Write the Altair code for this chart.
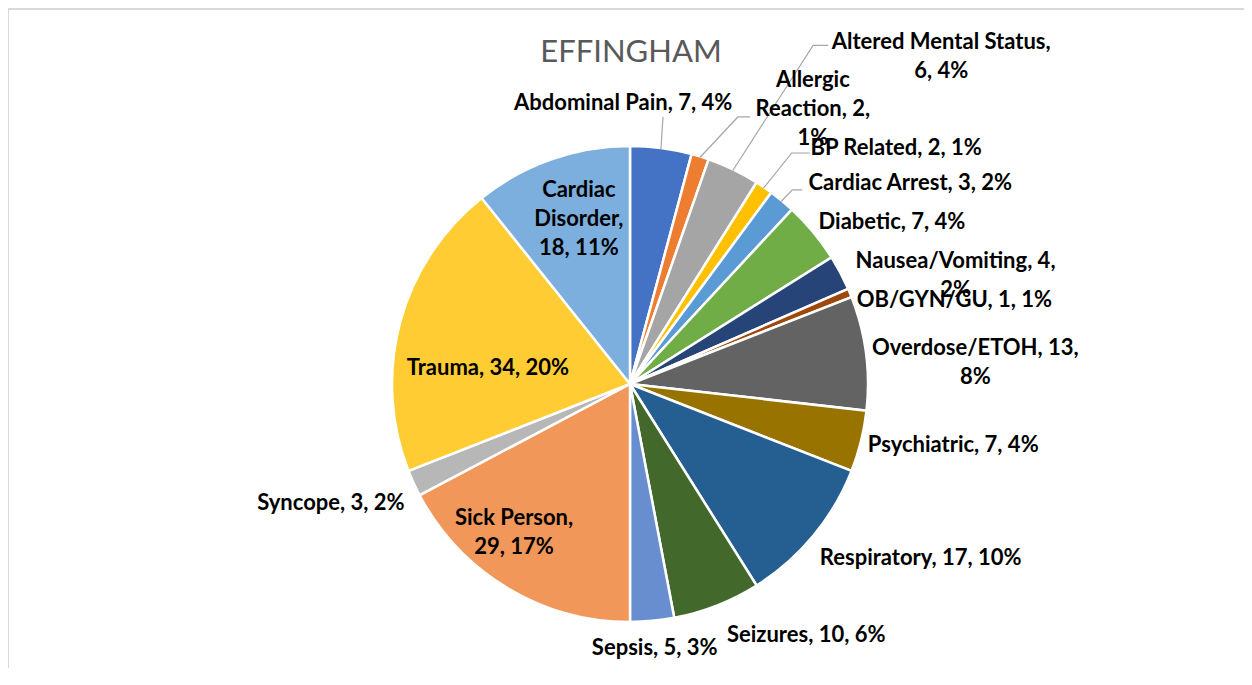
import math
import textwrap
import altair as alt
import pandas as pd

# ---------------- data ----------------
categories = ["Abdominal Pain", "Allergic Reaction", "Altered Mental Status", "BP Related",
              "Cardiac Arrest", "Diabetic", "Nausea/Vomiting", "OB/GYN/GU", "Overdose/ETOH",
              "Psychiatric", "Respiratory", "Seizures", "Sepsis", "Sick Person", "Syncope",
              "Trauma", "Cardiac Disorder"]
counts = [7, 2, 6, 2, 3, 7, 4, 1, 13, 7, 17, 10, 5, 29, 3, 34, 18]
title_text = "EFFINGHAM"

# ---------------- style / layout ----------------
palette = ["#4472C4", "#ED7D31", "#A5A5A5", "#FFC000", "#5B9BD5", "#70AD47", "#264478",
           "#9E480E", "#636363", "#997300", "#255E91", "#43682B", "#698ED0", "#F1975A",
           "#B7B7B7", "#FFCD33", "#7CAFDD"]
W, H = 1236, 660
CX, CY, R = 622, 376, 238
LABEL_FONT = "Lato"
LABEL_SIZE = 22
LINE_H = 29

# label placement: (angle shift from slice middle in degrees, distance from centre px, wrap chars)
label_layout = [(-8.9, 281, 40), (16.5, 330, 12), (17.8, 452, 22), (14.1, 356, 40),
                (14.7, 345, 40), (7.9, 308, 40), (9.5, 343, 19), (8.0, 335, 40),
                (4.0, 346, 18), (-3.2, 329, 40), (-8.7, 339, 40), (-13.6, 307, 40),
                (0.0, 265, 40), (7.0, 188, 12), (2.9, 322, 40), (-8.6, 143, 40),
                (2.1, 173, 10)]
# leader lines: category -> (elbow angle deg, elbow distance px, horizontal tail px)
leader_layout = {"Abdominal Pain": (7.05, 269, 0), "Allergic Reaction": (22.0, 288, 12),
                 "Altered Mental Status": (28.4, 385, 15), "BP Related": (35.0, 282, 18),
                 "Cardiac Arrest": (39.9, 253, 10)}

total = sum(counts)
pie_df = pd.DataFrame({"idx": range(len(categories)), "category": categories, "count": counts})

rows = []
cum = 0
mids = {}
for i, (c, v) in enumerate(zip(categories, counts)):
    mid = (cum + v / 2) / total * 2 * math.pi
    mids[c] = mid
    cum += v
    pct = round(v / total * 100)
    text = f"{c}, {v}, {pct}%"
    shift, rad, wrap = label_layout[i]
    lines = textwrap.wrap(text, wrap)
    ang = mid + math.radians(shift)
    lx = CX + rad * math.sin(ang)
    ly = CY - rad * math.cos(ang) - (len(lines) - 1) * LINE_H / 2
    rows.append({"category": c, "label": "\n".join(lines), "lx": lx, "ly": ly})
lab_df = pd.DataFrame(rows)

lead_rows = []
for c, (ang, dist, tail) in leader_layout.items():
    m = mids[c]
    sx, sy = CX + (R - 1) * math.sin(m), CY - (R - 1) * math.cos(m)
    a = math.radians(ang)
    ex, ey = CX + dist * math.sin(a), CY - dist * math.cos(a)
    pts = [(sx, sy), (ex, ey)]
    if tail:
        pts.append((ex + tail, ey))
    for k, (x, y) in enumerate(pts):
        lead_rows.append({"category": c, "seq": k, "x": x, "y": y})
lead_df = pd.DataFrame(lead_rows)

pie = alt.Chart(pie_df).mark_arc(x=CX, y=CY, outerRadius=R, stroke="white",
                                 strokeWidth=2.5).encode(
    theta=alt.Theta("count:Q", stack=True),
    order=alt.Order("idx:Q"),
    color=alt.Color("category:N", scale=alt.Scale(domain=categories, range=palette),
                    legend=None),
)

leaders = alt.Chart(lead_df).mark_line(color="#A6A6A6", strokeWidth=1.2).encode(
    x=alt.X("x:Q", scale=None, axis=None),
    y=alt.Y("y:Q", scale=None, axis=None),
    detail="category:N",
    order="seq:Q",
)

labels = alt.Chart(lab_df).mark_text(
    font=LABEL_FONT, fontSize=LABEL_SIZE, fontWeight="bold", color="#000000",
    align="center", baseline="middle", lineBreak="\n", lineHeight=LINE_H,
).encode(
    x=alt.X("lx:Q", scale=None, axis=None),
    y=alt.Y("ly:Q", scale=None, axis=None),
    text="label:N",
)

title = alt.Chart(pd.DataFrame({"t": [title_text]})).mark_text(
    font=LABEL_FONT, fontSize=31, fontWeight="normal", color="#595959",
    align="center", baseline="middle",
).encode(text="t:N", x=alt.value(623), y=alt.value(45))

frame_left = alt.Chart(pd.DataFrame({"a": [0]})).mark_rule(
    color="#D9D9D9", strokeWidth=2).encode(x=alt.value(0), y=alt.value(0), y2=alt.value(H))
frame_top = alt.Chart(pd.DataFrame({"a": [0]})).mark_rule(
    color="#D9D9D9", strokeWidth=2).encode(y=alt.value(1), x=alt.value(0), x2=alt.value(W))

chart = alt.layer(frame_left, frame_top, pie, leaders, labels, title).properties(
    width=W, height=H, padding=0, autosize=alt.AutoSizeParams(type="none"),
    background="white",
).configure_view(stroke=None)

chart.save("out.html", embed_options={"renderer": "svg", "actions": False})
